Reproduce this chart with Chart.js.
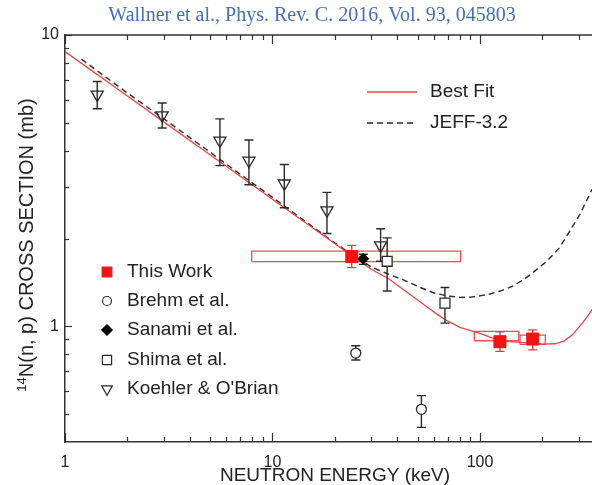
<!DOCTYPE html>
<html><head><meta charset="utf-8">
<script src="https://cdn.jsdelivr.net/npm/chart.js@4.4.1/dist/chart.umd.min.js"></script>
<style>html,body{margin:0;padding:0;background:#fff;overflow:hidden}#wrap{width:592px;height:485px;position:relative}</style>
</head><body><div id="wrap"><canvas id="c" width="592" height="485"></canvas></div>
<script>
// ---- data ----
const titleText = 'Wallner et al., Phys. Rev. C. 2016, Vol. 93, 045803';
const xTitle = 'NEUTRON ENERGY (keV)';
const yTitleSup = '14';
const yTitleMain = 'N(n, p) CROSS SECTION (mb)';

const fitE = [1,2,3,5,7,10,15,20,25,30,36,45,55,62,70,80,100,125,156,180,200,230,255,280,303,325,347];
const fitS = [8.77,6.17,5.02,3.88,3.27,2.73,2.22,1.92,1.715,1.565,1.46,1.30,1.17,1.10,1.04,0.99,0.945,0.89,0.88,0.875,0.867,0.87,0.89,0.935,1.0,1.065,1.14];

const jeffE = [1.2,2,3,5,7,10,15,20,25,30,37,43,50,60,70,80,90,100,112,125,145,170,210,240,262,303,347];
const jeffS = [8.26,6.32,5.15,3.96,3.32,2.77,2.24,1.93,1.73,1.595,1.50,1.44,1.37,1.30,1.27,1.255,1.258,1.27,1.29,1.32,1.375,1.48,1.67,1.85,2.04,2.42,2.95];

const thisE  = [24.1, 124.8, 179.5];
const thisS  = [1.733, 0.884, 0.903];
const thisLo = [1.589, 0.819, 0.829];
const thisHi = [1.894, 0.956, 0.971];
const boxL  = [7.94, 93.9, 155.9];
const boxR  = [80.7, 153.7, 206.4];
const boxLo = [1.666, 0.891, 0.866];
const boxHi = [1.811, 0.959, 0.932];

const brehmE  = [25.2, 52.2];
const brehmS  = [0.808, 0.518];
const brehmLo = [0.765, 0.449];
const brehmHi = [0.856, 0.577];

const sanamiE  = [27.4];
const sanamiS  = [1.705];
const sanamiLo = [1.63];
const sanamiHi = [1.765];

const shimaE  = [35.7, 67.8];
const shimaS  = [1.67, 1.20];
const shimaLo = [1.32, 1.024];
const shimaHi = [2.01, 1.357];

const koehE  = [1.43, 2.94, 5.58, 7.7, 11.4, 18.3, 33.2];
const koehS  = [6.24, 5.30, 4.34, 3.70, 3.09, 2.50, 1.894];
const koehLo = [5.58, 4.79, 3.56, 3.06, 2.55, 2.08, 1.67];
const koehHi = [6.92, 5.84, 5.15, 4.36, 3.59, 2.88, 2.16];

const xMajorTicks = [1, 10, 100];
const xMinorTicks = [2,3,4,5,6,7,8,9,20,30,40,50,60,70,80,90,200,300];
const yMajorTicks = [1, 10];
const yMinorTicks = [0.5,0.6,0.7,0.8,0.9,2,3,4,5,6,7,8,9];
const xMin = 1, xMax = 346.6, yMin = 0.4, yMax = 10;

const legendA = ['Best Fit', 'JEFF-3.2'];
const legendB = ['This Work', 'Brehm et al.', 'Sanami et al.', 'Shima et al.', "Koehler & O'Brian"];

// ---- build datasets ----
const pts = (xs, ys) => xs.map((x, i) => ({x, y: ys[i]}));
const RED = 'rgb(240,20,20)', FITRED = 'rgb(232,70,70)', DARK = '#2a2a2a';

const boxSets = boxL.map((l, i) => ({
  label: 'box' + i,
  data: [{x:l,y:boxLo[i]},{x:boxR[i],y:boxLo[i]},{x:boxR[i],y:boxHi[i]},{x:l,y:boxHi[i]},{x:l,y:boxLo[i]}],
  showLine: true, borderColor: 'rgb(238,80,80)', borderWidth: 1.3, pointRadius: 0, tension: 0, order: 8
}));

const sThis   = {label:legendB[0], data:pts(thisE,thisS), pointStyle:'rect', pointRadius:8.5, backgroundColor:RED, borderColor:RED, borderWidth:1, errLo:thisLo, errHi:thisHi, errColor:'rgb(235,60,60)', order:1};
const sBrehm  = {label:legendB[1], data:pts(brehmE,brehmS), pointStyle:'circle', pointRadius:5, backgroundColor:'#fff', borderColor:DARK, borderWidth:1.3, errLo:brehmLo, errHi:brehmHi, errColor:DARK, order:2};
const sSanami = {label:legendB[2], data:pts(sanamiE,sanamiS), pointStyle:'rectRot', pointRadius:5.5, backgroundColor:'#000', borderColor:'#000', borderWidth:1, errLo:sanamiLo, errHi:sanamiHi, errColor:DARK, order:2};
const sShima  = {label:legendB[3], data:pts(shimaE,shimaS), pointStyle:'rect', pointRadius:7, backgroundColor:'#fff', borderColor:DARK, borderWidth:1.3, errLo:shimaLo, errHi:shimaHi, errColor:DARK, order:3};
const sKoeh   = {label:legendB[4], data:pts(koehE,koehS), pointStyle:'triangle', rotation:180, pointRadius:7, backgroundColor:'rgba(255,255,255,0)', borderColor:DARK, borderWidth:1.3, errLo:koehLo, errHi:koehHi, errColor:DARK, order:3};

const sFit  = {label:legendA[0], data:pts(fitE,fitS), showLine:true, borderColor:FITRED, borderWidth:1.3, pointRadius:0, tension:0, order:6};
const sJeff = {label:legendA[1], data:pts(jeffE,jeffS), showLine:true, borderColor:DARK, borderDash:[6,4], borderWidth:1.4, pointRadius:0, tension:0, order:7};

// ---- plugin: error bars, frame ticks, titles, legends ----
const errorBars = {
  id: 'errorBars',
  beforeDatasetDraw(chart, args) {
    const ds = chart.data.datasets[args.index];
    if (!ds.errLo) return;
    const xs = chart.scales.x, ys = chart.scales.y, ctx = chart.ctx;
    ctx.save();
    ctx.strokeStyle = ds.errColor; ctx.lineWidth = 1.4;
    ds.data.forEach((p, i) => {
      const px = xs.getPixelForValue(p.x);
      const y1 = ys.getPixelForValue(ds.errHi[i]), y2 = ys.getPixelForValue(ds.errLo[i]);
      ctx.beginPath();
      ctx.moveTo(px, y1); ctx.lineTo(px, y2);
      ctx.moveTo(px - 4.5, y1); ctx.lineTo(px + 4.5, y1);
      ctx.moveTo(px - 4.5, y2); ctx.lineTo(px + 4.5, y2);
      ctx.stroke();
    });
    ctx.restore();
  }
};

const decor = {
  id: 'decor',
  afterDraw(chart) {
    const ctx = chart.ctx, a = chart.chartArea, xs = chart.scales.x, ys = chart.scales.y;
    ctx.save();
    // frame top line
    ctx.strokeStyle = '#333'; ctx.lineWidth = 1.5;
    ctx.beginPath(); ctx.moveTo(a.left, a.top); ctx.lineTo(a.right, a.top); ctx.stroke();
    // x ticks (inside, bottom & top)
    ctx.lineWidth = 1.2;
    const xt = (v, len) => {
      const px = Math.round(xs.getPixelForValue(v)) + 0.5;
      ctx.beginPath();
      ctx.moveTo(px, a.bottom); ctx.lineTo(px, a.bottom - len);
      ctx.moveTo(px, a.top); ctx.lineTo(px, a.top + len);
      ctx.stroke();
    };
    xMajorTicks.forEach(v => xt(v, 9));
    xMinorTicks.forEach(v => xt(v, 5));
    const yt = (v, len) => {
      const py = Math.round(ys.getPixelForValue(v)) + 0.5;
      ctx.beginPath(); ctx.moveTo(a.left, py); ctx.lineTo(a.left + len, py); ctx.stroke();
    };
    yMajorTicks.forEach(v => yt(v, 7));
    yMinorTicks.forEach(v => yt(v, 4));

    // chart title
    ctx.fillStyle = '#4470b4';
    ctx.font = '20px "Liberation Serif", "Times New Roman", serif';
    ctx.textAlign = 'center'; ctx.textBaseline = 'middle';
    ctx.fillText(titleText, 312, 16);

    // x title
    ctx.fillStyle = '#222';
    ctx.font = '19px "Liberation Sans", Arial, sans-serif';
    ctx.fillText(xTitle, 335, 476);

    // y title (rotated, with superscript)
    ctx.save();
    ctx.translate(27, 245); ctx.rotate(-Math.PI / 2);
    ctx.textAlign = 'left'; ctx.textBaseline = 'middle';
    ctx.font = '13px "Liberation Sans", Arial, sans-serif';
    const wSup = ctx.measureText(yTitleSup).width;
    ctx.font = '20px "Liberation Sans", Arial, sans-serif';
    const wMain = ctx.measureText(yTitleMain).width;
    const start = -(wSup + wMain) / 2;
    ctx.font = '13px "Liberation Sans", Arial, sans-serif';
    ctx.fillText(yTitleSup, start, -5);
    ctx.font = '20px "Liberation Sans", Arial, sans-serif';
    ctx.fillText(yTitleMain, start + wSup, 0);
    ctx.restore();

    // legend A (lines)
    ctx.textAlign = 'left'; ctx.textBaseline = 'middle';
    ctx.font = '19px "Liberation Sans", Arial, sans-serif';
    const la = [[sFit, 92], [sJeff, 123]];
    la.forEach(([ds, y]) => {
      ctx.save();
      ctx.strokeStyle = ds.borderColor; ctx.lineWidth = ds.borderWidth;
      ctx.setLineDash(ds.borderDash || []);
      ctx.beginPath(); ctx.moveTo(367, y); ctx.lineTo(417, y); ctx.stroke();
      ctx.restore();
      ctx.fillStyle = '#222';
      ctx.fillText(ds.label, 430, y);
    });

    // legend B (markers)
    const lb = [[sThis, 272, 6.8], [sBrehm, 301, 4.5], [sSanami, 330, 5.2], [sShima, 360, 6.5], [sKoeh, 389, 6.2]];
    lb.forEach(([ds, y, r]) => {
      ctx.save();
      ctx.fillStyle = ds.backgroundColor; ctx.strokeStyle = ds.borderColor; ctx.lineWidth = 1.2;
      Chart.helpers.drawPoint(ctx, {pointStyle: ds.pointStyle, rotation: ds.rotation || 0, radius: r, borderWidth: 1.2}, 107, y);
      ctx.restore();
      ctx.fillStyle = '#222';
      ctx.fillText(ds.label, 127, y);
    });
    ctx.restore();
  }
};

new Chart(document.getElementById('c'), {
  type: 'scatter',
  data: { datasets: [sThis, sBrehm, sSanami, sShima, sKoeh, sFit, sJeff, ...boxSets] },
  options: {
    responsive: false, animation: false, devicePixelRatio: 1,
    layout: { autoPadding: false, padding: { top: 35, right: 0, left: 0, bottom: 0 } },
    plugins: { legend: { display: false }, tooltip: { enabled: false }, title: { display: false } },
    scales: {
      x: {
        type: 'logarithmic', min: xMin, max: xMax, position: 'bottom',
        grid: { display: false, drawTicks: false },
        border: { display: true, color: '#333', width: 1.5 },
        afterBuildTicks: s => { s.ticks = xMajorTicks.map(v => ({ value: v })); },
        afterFit: s => { s.height = 43; s.paddingLeft = 0; s.paddingRight = 0; },
        ticks: { padding: 11, color: '#222', font: { family: '"Liberation Sans", Arial, sans-serif', size: 16 }, callback: v => String(v), maxRotation: 0, autoSkip: false }
      },
      y: {
        type: 'logarithmic', min: yMin, max: yMax, position: 'left',
        grid: { display: false, drawTicks: false },
        border: { display: true, color: '#333', width: 1.5 },
        afterBuildTicks: s => { s.ticks = yMajorTicks.map(v => ({ value: v })); },
        afterFit: s => { s.width = 65; s.paddingTop = 0; s.paddingBottom = 0; },
        ticks: { padding: 6, color: '#222', font: { family: '"Liberation Sans", Arial, sans-serif', size: 16 }, callback: v => String(v), autoSkip: false }
      }
    }
  },
  plugins: [errorBars, decor]
});
</script></body></html>
